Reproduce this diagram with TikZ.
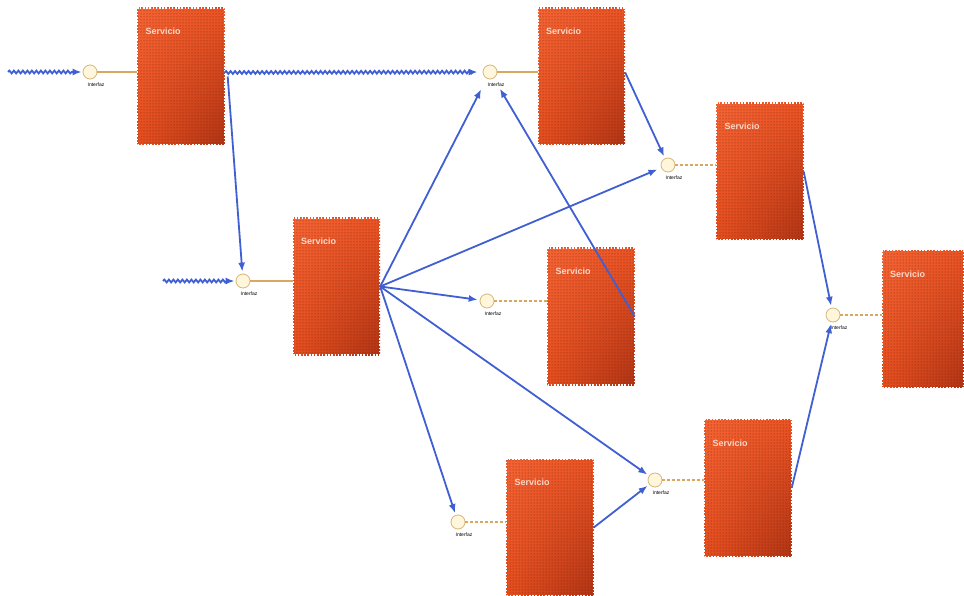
\documentclass[tikz,border=0pt]{standalone}
\usepackage{fontspec}
\setmainfont{Liberation Sans}
\usetikzlibrary{arrows.meta,decorations.pathmorphing,shadings,patterns}
\definecolor{flow}{HTML}{3F5FD2}
\definecolor{wire}{HTML}{D9A860}
\definecolor{port}{HTML}{FFF6DC}
\definecolor{portedge}{HTML}{D6B77A}
\definecolor{svcTL}{HTML}{F46434}
\definecolor{svcTR}{HTML}{EC5424}
\definecolor{svcBL}{HTML}{E64E1E}
\definecolor{svcBR}{HTML}{B03414}
\definecolor{svctext}{HTML}{FBD8C8}
\tikzset{
  svc/.style={rectangle, minimum width=87pt, minimum height=137pt, inner sep=0pt,
    upper left=svcTL, upper right=svcTR, lower left=svcBL, lower right=svcBR,
    postaction={pattern=dots, pattern color=svcBR!70!black},
    postaction={draw=white, line width=1.2pt, dash pattern=on 1.6pt off 1.6pt}},
  svcname/.style={anchor=north west, font=\bfseries\fontsize{9}{10}\selectfont,
    text=svctext, inner sep=0pt},
  port/.style={circle, draw=portedge, fill=port, line width=0.8pt,
    minimum size=14pt, inner sep=0pt},
  portname/.style={font=\fontsize{5}{6}\selectfont, inner sep=1pt},
  link/.style={draw=wire, line width=1.2pt},
  dlink/.style={link, dash pattern=on 3pt off 2pt},
  call/.style={draw=flow, line width=1.8pt, -{Latex[length=9pt,width=7pt]}},
  wavy/.style={call, decorate, decoration={snake, amplitude=1.4pt,
    segment length=4.5pt, post length=9pt}}
}
\begin{document}
\begin{tikzpicture}[x=1pt, y=-1pt]
\useasboundingbox[fill=white] (0,0) rectangle (964,596);

% services
\node[svc] (bA) at (181,76.5) {};
\node[svc] (bB) at (336.5,286.5) {};
\node[svc] (bC) at (581.5,76.5) {};
\node[svc] (bD) at (760,171.5) {};
\node[svc] (bE) at (591,316.5) {};
\node[svc, minimum width=82pt] (bF) at (923,319) {};
\node[svc] (bG) at (748,488) {};
\node[svc] (bH) at (550,527.5) {};

\foreach \b in {bA,bB,bC,bD,bE,bF,bG,bH}
  \node[svcname] (t\b) at ([shift={(8pt,-20pt)}]\b.north west) {Servicio};

% interfaces
\foreach \n/\x/\y in {cA/90/72, cB/243/281, cC/490/72, cD/668/165,
                      cE/487/301, cF/833/315, cG/655/480, cH/458/522}
  \node[port, label={[portname, xshift=6pt, yshift=-2pt]below:Interfaz}] (\n) at (\x,\y) {};

% interface to service links (horizontal)
\draw[link] (cA.east) -- (cA.east -| bA.west);
\draw[link] (cB.east) -- (cB.east -| bB.west);
\draw[link] (cC.east) -- (cC.east -| bC.west);
\draw[dlink] (cD.east) -- (cD.east -| bD.west);
\draw[dlink] (cE.east) -- (cE.east -| bE.west);
\draw[dlink] (cF.east) -- (cF.east -| bF.west);
\draw[dlink] (cG.east) -- (cG.east -| bG.west);
\draw[dlink] (cH.east) -- (cH.east -| bH.west);

% external entries
\coordinate (inA) at (8,72);
\coordinate (inB) at (163,281);
\draw[wavy, shorten >=1pt] (inA) -- (cA);
\draw[wavy, shorten >=1pt] (inB) -- (cB);

% calls between services
\draw[wavy, shorten >=5pt] ([yshift=4pt]bA.east) -- (cC);
\draw[call, shorten >=2pt] ([xshift=3pt]bA.east) -- (cB);
\draw[call, shorten >=12pt] (bB.east) -- (cC);
\draw[call, shorten >=12pt] (bE.east) -- (cC);
\draw[call, shorten >=2pt] ([yshift=4pt]bC.east) -- (cD);
\draw[call, shorten >=4pt] (bB.east) -- (cD);
\draw[call, shorten >=2pt] (bB.east) -- (cE);
\draw[call, shorten >=2pt] (bB.east) -- (cH);
\draw[call, shorten >=2pt] (bB.east) -- (cG);
\draw[call, shorten >=2pt] (bH.east) -- (cG);
\draw[call, shorten >=2pt] (bD.east) -- (cF);
\draw[call, shorten >=2pt] (bG.east) -- (cF);
\end{tikzpicture}
\end{document}
